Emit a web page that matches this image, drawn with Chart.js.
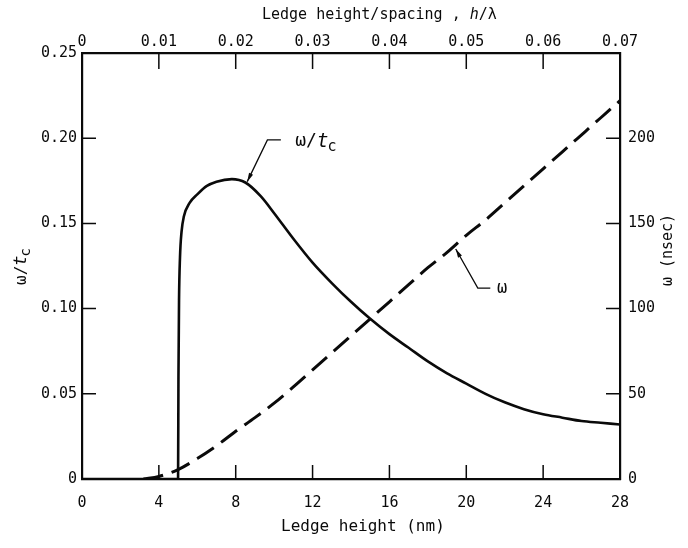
<!DOCTYPE html>
<html>
<head>
<meta charset="utf-8">
<title>Ledge height</title>
<script src="https://cdn.jsdelivr.net/npm/chart.js@4.4.1/dist/chart.umd.min.js"></script>
<style>
    html, body { margin: 0; padding: 0; background: #fff; }
    #wrap { width: 688px; height: 548px; }
</style>
</head>
<body>
<div id="wrap"><canvas id="chartCanvas" width="688" height="548"></canvas></div>
<script>
// =========================
// Data
// =========================
// solid curve: omega / t_c vs ledge height (nm)
const heightNm = [0, 5.0, 5.02, 5.05, 5.1, 5.18, 5.3, 5.6, 6.0, 6.5, 7.0, 7.8, 8.5, 9.3, 10, 11, 12, 13, 14, 15, 16, 17, 18, 19, 20, 21, 22, 23, 24, 25, 26, 27, 28];
const ratioWtc = [0, 0, 0.06, 0.105, 0.13, 0.145, 0.154, 0.162, 0.167, 0.172, 0.1745, 0.176, 0.174, 0.166, 0.156, 0.141, 0.127, 0.115, 0.104, 0.094, 0.085, 0.077, 0.069, 0.062, 0.056, 0.050, 0.045, 0.041, 0.038, 0.036, 0.034, 0.033, 0.032];

// dashed curve: omega (nsec) vs ledge height (nm)
const heightNmW = [3.2, 4, 5, 6, 7, 8, 9, 10, 11, 12, 13, 14, 15, 16, 17, 18, 19, 20, 21, 22, 23, 24, 25, 26, 27, 28];
const omegaNs = [0, 1.5, 5.5, 12, 19.5, 28, 36, 44.5, 54, 64, 74, 84, 94, 104, 114, 124, 133, 143, 152, 162, 172, 182, 192, 202, 212, 222];

// tick labels
const bottomTicks = [0, 4, 8, 12, 16, 20, 24, 28];
const topTicks = [0, 0.01, 0.02, 0.03, 0.04, 0.05, 0.06, 0.07];
const leftTicks = [0, 0.05, 0.10, 0.15, 0.20, 0.25];
const rightTicks = [0, 50, 100, 150, 200, 250];

// =========================
// Stil
// =========================
const ink = "#0a0a0a";
const fontFam = "'DejaVu Sans Mono', monospace";
const tickFont = { family: fontFam, size: 15 };

function setTicks(list) {
    return scale => { scale.ticks = list.map(v => ({ value: v })); };
}

// inward tick marks, titles and the two pointer labels
const decorations = {
    id: "decorations",
    afterDraw(chart) {
        const { ctx, chartArea: a, scales } = chart;
        const L = 14;
        ctx.save();
        ctx.strokeStyle = ink;
        ctx.fillStyle = ink;
        ctx.lineWidth = 1.5;

        ctx.beginPath();
        bottomTicks.slice(1, -1).forEach(v => {
            const px = scales.x.getPixelForValue(v);
            ctx.moveTo(px, a.bottom); ctx.lineTo(px, a.bottom - L);
        });
        topTicks.slice(1, -1).forEach(v => {
            const px = scales.x2.getPixelForValue(v);
            ctx.moveTo(px, a.top); ctx.lineTo(px, a.top + L + 2);
        });
        leftTicks.slice(1, -1).forEach(v => {
            const py = scales.y.getPixelForValue(v);
            ctx.moveTo(a.left, py); ctx.lineTo(a.left + L, py);
        });
        rightTicks.slice(1, -1).forEach(v => {
            const py = scales.y2.getPixelForValue(v);
            ctx.moveTo(a.right, py); ctx.lineTo(a.right - L, py);
        });
        ctx.stroke();

        // axis titles
        ctx.textBaseline = "middle";
        ctx.textAlign = "left";
        ctx.font = "16px " + fontFam;
        ctx.fillText("Ledge height (nm)", 281, 527);
        ctx.font = "15px " + fontFam;
        ctx.fillText("Ledge height/spacing , ", 262, 15);
        let w = ctx.measureText("Ledge height/spacing , ").width;
        ctx.font = "italic 15px " + fontFam;
        ctx.fillText("h", 262 + w, 15);
        w += ctx.measureText("h").width;
        ctx.font = "15px " + fontFam;
        ctx.fillText("/λ", 262 + w, 15);

        // left title, reads upward
        ctx.save();
        ctx.translate(22, 285);
        ctx.rotate(-Math.PI / 2);
        drawWtc(ctx, 0, 0, 16);
        ctx.restore();

        // right title, reads upward
        ctx.save();
        ctx.translate(668, 250);
        ctx.rotate(-Math.PI / 2);
        ctx.textAlign = "center";
        ctx.font = "15px " + fontFam;
        ctx.fillText("ω (nsec)", 0, 0);
        ctx.restore();

        // pointer for omega / t_c
        const xs = scales.x, ys = scales.y, ys2 = scales.y2;
        pointer(ctx, xs.getPixelForValue(8.6), ys.getPixelForValue(0.1745),
            xs.getPixelForValue(9.65), ys.getPixelForValue(0.199),
            xs.getPixelForValue(10.35));
        drawWtc(ctx, xs.getPixelForValue(11.1), ys.getPixelForValue(0.198), 18);

        // pointer for omega
        pointer(ctx, xs.getPixelForValue(19.45), ys2.getPixelForValue(135),
            xs.getPixelForValue(20.6), ys2.getPixelForValue(112),
            xs.getPixelForValue(21.25));
        ctx.font = "17px " + fontFam;
        ctx.textAlign = "left";
        ctx.fillText("ω", xs.getPixelForValue(21.6), ys2.getPixelForValue(112));
        ctx.restore();
    }
};

function drawWtc(ctx, x, y, size) {
    ctx.textAlign = "left";
    ctx.textBaseline = "middle";
    ctx.font = size + "px " + fontFam;
    ctx.fillText("ω/", x, y);
    let w = ctx.measureText("ω/").width;
    ctx.font = "italic " + (size + 1) + "px " + fontFam;
    ctx.fillText("t", x + w, y);
    w += ctx.measureText("t").width - 1;
    ctx.font = Math.round(size * 0.85) + "px " + fontFam;
    ctx.fillText("c", x + w, y + size * 0.3);
}

function pointer(ctx, tx, ty, kx, ky, ex) {
    ctx.lineWidth = 1.3;
    ctx.beginPath();
    ctx.moveTo(tx, ty); ctx.lineTo(kx, ky); ctx.lineTo(ex, ky);
    ctx.stroke();
    const ang = Math.atan2(ky - ty, kx - tx);
    ctx.beginPath();
    ctx.moveTo(tx, ty);
    ctx.lineTo(tx + 9 * Math.cos(ang + 0.25), ty + 9 * Math.sin(ang + 0.25));
    ctx.lineTo(tx + 9 * Math.cos(ang - 0.25), ty + 9 * Math.sin(ang - 0.25));
    ctx.closePath();
    ctx.fill();
}

// =========================
// Diagram
// =========================
const ctx = document.getElementById("chartCanvas").getContext("2d");

new Chart(ctx, {
    type: "scatter",
    data: {
        datasets: [{
            label: "ω/tc",
            data: heightNm.map((h, i) => ({ x: h, y: ratioWtc[i] })),
            showLine: true,
            borderColor: ink,
            borderWidth: 2.6,
            pointRadius: 0,
            cubicInterpolationMode: "monotone",
            xAxisID: "x",
            yAxisID: "y"
        }, {
            label: "ω",
            data: heightNmW.map((h, i) => ({ x: h, y: omegaNs[i] })),
            showLine: true,
            borderColor: ink,
            borderWidth: 3,
            borderDash: [20, 9],
            pointRadius: 0,
            cubicInterpolationMode: "monotone",
            xAxisID: "x",
            yAxisID: "y2"
        }]
    },
    options: {
        responsive: false,
        animation: false,
        devicePixelRatio: 1,
        layout: { padding: 0 },
        plugins: { legend: { display: false }, tooltip: { enabled: false } },
        scales: {
            x: {
                type: "linear", position: "bottom", min: 0, max: 28,
                afterBuildTicks: setTicks(bottomTicks),
                afterFit: s => { s.height = 69; },
                grid: { display: false, drawTicks: false },
                border: { display: true, color: ink, width: 2.2 },
                ticks: { color: ink, font: tickFont, padding: 15, maxRotation: 0 }
            },
            x2: {
                type: "linear", position: "top", min: 0, max: 0.07,
                afterBuildTicks: setTicks(topTicks),
                afterFit: s => { s.height = 53; },
                grid: { display: false, drawTicks: false },
                border: { display: true, color: ink, width: 2.2 },
                ticks: { color: ink, font: tickFont, padding: 2, maxRotation: 0,
                    callback: v => v === 0 ? "0" : v.toFixed(2) }
            },
            y: {
                type: "linear", position: "left", min: 0, max: 0.25,
                afterBuildTicks: setTicks(leftTicks),
                afterFit: s => { s.width = 82; },
                grid: { display: false, drawTicks: false },
                border: { display: true, color: ink, width: 2.2 },
                ticks: { color: ink, font: tickFont, padding: 5,
                    callback: v => v === 0 ? "0" : v.toFixed(2) }
            },
            y2: {
                type: "linear", position: "right", min: 0, max: 250,
                afterBuildTicks: setTicks(rightTicks),
                afterFit: s => { s.width = 68; },
                grid: { display: false, drawTicks: false },
                border: { display: true, color: ink, width: 2.2 },
                ticks: { color: ink, font: tickFont, padding: 8,
                    callback: v => v === 250 ? "" : String(v) }
            }
        }
    },
    plugins: [decorations]
});
</script>
</body>
</html>
